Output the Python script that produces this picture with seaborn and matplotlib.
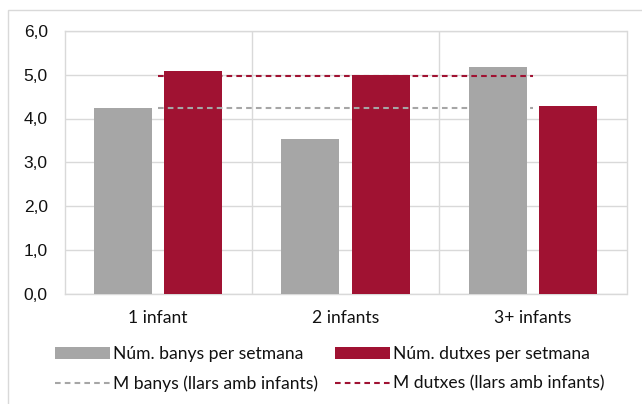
import matplotlib
matplotlib.use("Agg")
import matplotlib.pyplot as plt
import seaborn as sns
import pandas as pd
from matplotlib.lines import Line2D
from matplotlib.patches import Patch, Rectangle
from matplotlib.ticker import FuncFormatter

# Data
categories = ["1 infant", "2 infants", "3+ infants"]
banys = [4.23, 3.54, 5.18]
dutxes = [5.08, 4.99, 4.29]
mitjana_banys = 4.24
mitjana_dutxes = 4.98
series_labels = ["Núm. banys per setmana", "Núm. dutxes per setmana"]
mean_labels = ["M banys (llars amb infants)", "M dutxes (llars amb infants)"]
y_ticks = [0, 1, 2, 3, 4, 5, 6]

GREY = "#A6A6A6"
RED = "#A01232"
GRID = "#D9D9D9"
DASH = (0, (2.7, 2.0))

sns.set_theme(style="white")
plt.rcParams["font.family"] = ["Liberation Sans", "DejaVu Sans"]
LABEL_FONT = ["Lato", "DejaVu Sans"]
LABEL_SIZE = 12.6

df = pd.DataFrame({
    "categoria": categories * 2,
    "valor": banys + dutxes,
    "serie": [series_labels[0]] * len(categories) + [series_labels[1]] * len(categories),
})

W, H = 642, 404
fig = plt.figure(figsize=(W / 100, H / 100), dpi=100)
ax = fig.add_axes([64.5 / W, 1 - 293.5 / H, (626.5 - 64.5) / W, (293.5 - 31) / H])

sns.barplot(data=df, x="categoria", y="valor", hue="serie", order=categories,
            hue_order=series_labels, palette=[GREY, RED], width=0.752, gap=0.176,
            saturation=1, errorbar=None, linewidth=0, legend=False, ax=ax, zorder=3)

# Average lines across the categories
xs = list(range(len(categories)))
ax.plot(xs, [mitjana_banys] * len(xs), color=GREY, lw=1.5, linestyle=DASH, zorder=4)
ax.plot(xs, [mitjana_dutxes] * len(xs), color=RED, lw=1.5, linestyle=DASH, zorder=4)

# Axes styling
ax.set_xlim(-0.5, len(categories) - 0.5)
ax.set_ylim(y_ticks[0], y_ticks[-1])
ax.set_yticks(y_ticks)
ax.yaxis.set_major_formatter(FuncFormatter(lambda v, _: f"{v:.1f}".replace(".", ",")))
ax.set_xlabel("")
ax.set_ylabel("")
ax.grid(axis="y", color=GRID, lw=1, zorder=0)
ax.set_axisbelow(True)
for b in range(1, len(categories)):
    ax.axvline(b - 0.5, color=GRID, lw=1, zorder=0)
for sp in ax.spines.values():
    sp.set_color(GRID)
    sp.set_linewidth(1)
ax.tick_params(axis="y", length=0, pad=12, labelsize=12.5, labelcolor="#111111")
ax.tick_params(axis="x", length=0, pad=12, labelsize=LABEL_SIZE, labelcolor="#111111")
for t in ax.get_xticklabels():
    t.set_fontfamily(LABEL_FONT)

# Outer chart frame
fig.patches.append(Rectangle((8 / W, -0.2), 1.5, 1.2 - 10 / H, transform=fig.transFigure,
                             fill=False, edgecolor=GRID, lw=1))

# Legend
handles = [
    Patch(facecolor=GREY, edgecolor="none"),
    Line2D([], [], color=GREY, lw=1.5, linestyle=DASH),
    Patch(facecolor=RED, edgecolor="none"),
    Line2D([], [], color=RED, lw=1.5, linestyle=DASH),
]
labels = [series_labels[0], mean_labels[0], series_labels[1], mean_labels[1]]
fig.legend(handles, labels, ncol=2, loc="upper left", bbox_to_anchor=(55 / W, 1 - 346 / H),
           frameon=False, borderpad=0, borderaxespad=0, handlelength=3.14, handleheight=0.65,
           handletextpad=0.18, columnspacing=0.97, labelspacing=0.78,
           prop={"family": LABEL_FONT, "size": LABEL_SIZE}, labelcolor="#111111")

fig.savefig("out.png", dpi=100)
